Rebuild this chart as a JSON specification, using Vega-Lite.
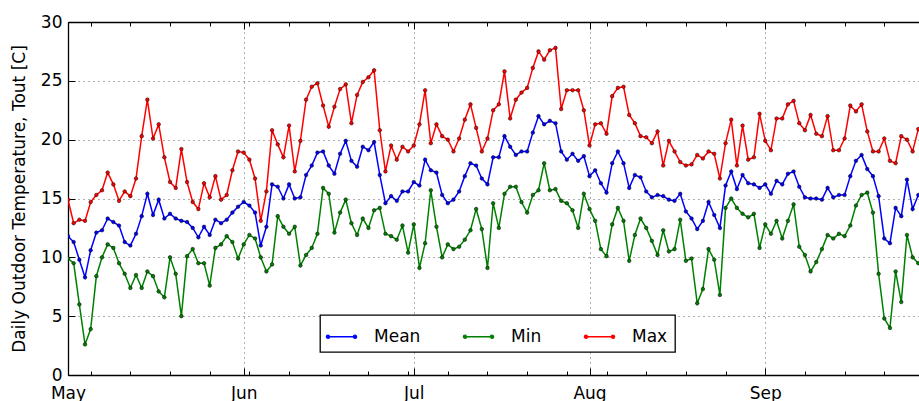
{
  "$schema": "https://vega.github.io/schema/vega-lite/v6.json",
  "autosize": "none",
  "padding": {"left": 68, "top": 22, "right": 0, "bottom": 26},
  "width": 851,
  "height": 353,
  "background": "white",
  "data": {
    "values": [
      {"date": "2014-05-01", "series": "Mean", "temp": 11.8},
      {"date": "2014-05-02", "series": "Mean", "temp": 11.3},
      {"date": "2014-05-03", "series": "Mean", "temp": 9.8},
      {"date": "2014-05-04", "series": "Mean", "temp": 8.3},
      {"date": "2014-05-05", "series": "Mean", "temp": 10.6},
      {"date": "2014-05-06", "series": "Mean", "temp": 12.1},
      {"date": "2014-05-07", "series": "Mean", "temp": 12.3},
      {"date": "2014-05-08", "series": "Mean", "temp": 13.3},
      {"date": "2014-05-09", "series": "Mean", "temp": 13.0},
      {"date": "2014-05-10", "series": "Mean", "temp": 12.7},
      {"date": "2014-05-11", "series": "Mean", "temp": 11.3},
      {"date": "2014-05-12", "series": "Mean", "temp": 11.0},
      {"date": "2014-05-13", "series": "Mean", "temp": 12.0},
      {"date": "2014-05-14", "series": "Mean", "temp": 13.5},
      {"date": "2014-05-15", "series": "Mean", "temp": 15.4},
      {"date": "2014-05-16", "series": "Mean", "temp": 13.6},
      {"date": "2014-05-17", "series": "Mean", "temp": 14.9},
      {"date": "2014-05-18", "series": "Mean", "temp": 13.3},
      {"date": "2014-05-19", "series": "Mean", "temp": 13.7},
      {"date": "2014-05-20", "series": "Mean", "temp": 13.3},
      {"date": "2014-05-21", "series": "Mean", "temp": 13.1},
      {"date": "2014-05-22", "series": "Mean", "temp": 13.0},
      {"date": "2014-05-23", "series": "Mean", "temp": 12.5},
      {"date": "2014-05-24", "series": "Mean", "temp": 11.7},
      {"date": "2014-05-25", "series": "Mean", "temp": 12.6},
      {"date": "2014-05-26", "series": "Mean", "temp": 11.9},
      {"date": "2014-05-27", "series": "Mean", "temp": 13.2},
      {"date": "2014-05-28", "series": "Mean", "temp": 12.9},
      {"date": "2014-05-29", "series": "Mean", "temp": 13.2},
      {"date": "2014-05-30", "series": "Mean", "temp": 13.8},
      {"date": "2014-05-31", "series": "Mean", "temp": 14.3},
      {"date": "2014-06-01", "series": "Mean", "temp": 14.7},
      {"date": "2014-06-02", "series": "Mean", "temp": 14.4},
      {"date": "2014-06-03", "series": "Mean", "temp": 13.8},
      {"date": "2014-06-04", "series": "Mean", "temp": 11.0},
      {"date": "2014-06-05", "series": "Mean", "temp": 12.6},
      {"date": "2014-06-06", "series": "Mean", "temp": 16.2},
      {"date": "2014-06-07", "series": "Mean", "temp": 16.0},
      {"date": "2014-06-08", "series": "Mean", "temp": 15.0},
      {"date": "2014-06-09", "series": "Mean", "temp": 16.2},
      {"date": "2014-06-10", "series": "Mean", "temp": 15.0},
      {"date": "2014-06-11", "series": "Mean", "temp": 15.1},
      {"date": "2014-06-12", "series": "Mean", "temp": 17.0},
      {"date": "2014-06-13", "series": "Mean", "temp": 17.8},
      {"date": "2014-06-14", "series": "Mean", "temp": 18.9},
      {"date": "2014-06-15", "series": "Mean", "temp": 19.0},
      {"date": "2014-06-16", "series": "Mean", "temp": 17.8},
      {"date": "2014-06-17", "series": "Mean", "temp": 17.1},
      {"date": "2014-06-18", "series": "Mean", "temp": 18.8},
      {"date": "2014-06-19", "series": "Mean", "temp": 19.9},
      {"date": "2014-06-20", "series": "Mean", "temp": 18.2},
      {"date": "2014-06-21", "series": "Mean", "temp": 17.7},
      {"date": "2014-06-22", "series": "Mean", "temp": 19.4},
      {"date": "2014-06-23", "series": "Mean", "temp": 19.1},
      {"date": "2014-06-24", "series": "Mean", "temp": 19.8},
      {"date": "2014-06-25", "series": "Mean", "temp": 17.0},
      {"date": "2014-06-26", "series": "Mean", "temp": 14.6},
      {"date": "2014-06-27", "series": "Mean", "temp": 15.2},
      {"date": "2014-06-28", "series": "Mean", "temp": 14.8},
      {"date": "2014-06-29", "series": "Mean", "temp": 15.6},
      {"date": "2014-06-30", "series": "Mean", "temp": 15.6},
      {"date": "2014-07-01", "series": "Mean", "temp": 16.4},
      {"date": "2014-07-02", "series": "Mean", "temp": 16.1},
      {"date": "2014-07-03", "series": "Mean", "temp": 18.3},
      {"date": "2014-07-04", "series": "Mean", "temp": 17.4},
      {"date": "2014-07-05", "series": "Mean", "temp": 17.2},
      {"date": "2014-07-06", "series": "Mean", "temp": 15.3},
      {"date": "2014-07-07", "series": "Mean", "temp": 14.6},
      {"date": "2014-07-08", "series": "Mean", "temp": 14.9},
      {"date": "2014-07-09", "series": "Mean", "temp": 15.6},
      {"date": "2014-07-10", "series": "Mean", "temp": 16.9},
      {"date": "2014-07-11", "series": "Mean", "temp": 18.0},
      {"date": "2014-07-12", "series": "Mean", "temp": 17.8},
      {"date": "2014-07-13", "series": "Mean", "temp": 16.7},
      {"date": "2014-07-14", "series": "Mean", "temp": 16.2},
      {"date": "2014-07-15", "series": "Mean", "temp": 18.5},
      {"date": "2014-07-16", "series": "Mean", "temp": 18.5},
      {"date": "2014-07-17", "series": "Mean", "temp": 20.3},
      {"date": "2014-07-18", "series": "Mean", "temp": 19.4},
      {"date": "2014-07-19", "series": "Mean", "temp": 18.7},
      {"date": "2014-07-20", "series": "Mean", "temp": 19.0},
      {"date": "2014-07-21", "series": "Mean", "temp": 19.0},
      {"date": "2014-07-22", "series": "Mean", "temp": 20.6},
      {"date": "2014-07-23", "series": "Mean", "temp": 22.0},
      {"date": "2014-07-24", "series": "Mean", "temp": 21.3},
      {"date": "2014-07-25", "series": "Mean", "temp": 21.6},
      {"date": "2014-07-26", "series": "Mean", "temp": 21.4},
      {"date": "2014-07-27", "series": "Mean", "temp": 19.0},
      {"date": "2014-07-28", "series": "Mean", "temp": 18.3},
      {"date": "2014-07-29", "series": "Mean", "temp": 18.8},
      {"date": "2014-07-30", "series": "Mean", "temp": 18.2},
      {"date": "2014-07-31", "series": "Mean", "temp": 18.6},
      {"date": "2014-08-01", "series": "Mean", "temp": 16.9},
      {"date": "2014-08-02", "series": "Mean", "temp": 17.4},
      {"date": "2014-08-03", "series": "Mean", "temp": 16.3},
      {"date": "2014-08-04", "series": "Mean", "temp": 15.5},
      {"date": "2014-08-05", "series": "Mean", "temp": 18.0},
      {"date": "2014-08-06", "series": "Mean", "temp": 19.0},
      {"date": "2014-08-07", "series": "Mean", "temp": 18.0},
      {"date": "2014-08-08", "series": "Mean", "temp": 15.9},
      {"date": "2014-08-09", "series": "Mean", "temp": 17.0},
      {"date": "2014-08-10", "series": "Mean", "temp": 16.8},
      {"date": "2014-08-11", "series": "Mean", "temp": 15.6},
      {"date": "2014-08-12", "series": "Mean", "temp": 15.1},
      {"date": "2014-08-13", "series": "Mean", "temp": 15.3},
      {"date": "2014-08-14", "series": "Mean", "temp": 15.2},
      {"date": "2014-08-15", "series": "Mean", "temp": 14.9},
      {"date": "2014-08-16", "series": "Mean", "temp": 14.8},
      {"date": "2014-08-17", "series": "Mean", "temp": 15.4},
      {"date": "2014-08-18", "series": "Mean", "temp": 13.9},
      {"date": "2014-08-19", "series": "Mean", "temp": 13.3},
      {"date": "2014-08-20", "series": "Mean", "temp": 12.4},
      {"date": "2014-08-21", "series": "Mean", "temp": 13.1},
      {"date": "2014-08-22", "series": "Mean", "temp": 14.7},
      {"date": "2014-08-23", "series": "Mean", "temp": 13.6},
      {"date": "2014-08-24", "series": "Mean", "temp": 12.5},
      {"date": "2014-08-25", "series": "Mean", "temp": 16.1},
      {"date": "2014-08-26", "series": "Mean", "temp": 17.3},
      {"date": "2014-08-27", "series": "Mean", "temp": 15.8},
      {"date": "2014-08-28", "series": "Mean", "temp": 17.0},
      {"date": "2014-08-29", "series": "Mean", "temp": 16.3},
      {"date": "2014-08-30", "series": "Mean", "temp": 16.2},
      {"date": "2014-08-31", "series": "Mean", "temp": 15.9},
      {"date": "2014-09-01", "series": "Mean", "temp": 16.2},
      {"date": "2014-09-02", "series": "Mean", "temp": 15.4},
      {"date": "2014-09-03", "series": "Mean", "temp": 16.5},
      {"date": "2014-09-04", "series": "Mean", "temp": 16.2},
      {"date": "2014-09-05", "series": "Mean", "temp": 17.1},
      {"date": "2014-09-06", "series": "Mean", "temp": 17.3},
      {"date": "2014-09-07", "series": "Mean", "temp": 16.0},
      {"date": "2014-09-08", "series": "Mean", "temp": 15.1},
      {"date": "2014-09-09", "series": "Mean", "temp": 15.0},
      {"date": "2014-09-10", "series": "Mean", "temp": 15.0},
      {"date": "2014-09-11", "series": "Mean", "temp": 14.9},
      {"date": "2014-09-12", "series": "Mean", "temp": 15.9},
      {"date": "2014-09-13", "series": "Mean", "temp": 15.1},
      {"date": "2014-09-14", "series": "Mean", "temp": 15.3},
      {"date": "2014-09-15", "series": "Mean", "temp": 15.3},
      {"date": "2014-09-16", "series": "Mean", "temp": 16.9},
      {"date": "2014-09-17", "series": "Mean", "temp": 18.2},
      {"date": "2014-09-18", "series": "Mean", "temp": 18.7},
      {"date": "2014-09-19", "series": "Mean", "temp": 17.5},
      {"date": "2014-09-20", "series": "Mean", "temp": 16.9},
      {"date": "2014-09-21", "series": "Mean", "temp": 15.2},
      {"date": "2014-09-22", "series": "Mean", "temp": 11.6},
      {"date": "2014-09-23", "series": "Mean", "temp": 11.2},
      {"date": "2014-09-24", "series": "Mean", "temp": 14.2},
      {"date": "2014-09-25", "series": "Mean", "temp": 13.5},
      {"date": "2014-09-26", "series": "Mean", "temp": 16.6},
      {"date": "2014-09-27", "series": "Mean", "temp": 14.1},
      {"date": "2014-09-28", "series": "Mean", "temp": 15.3},
      {"date": "2014-05-01", "series": "Min", "temp": 9.9},
      {"date": "2014-05-02", "series": "Min", "temp": 9.5},
      {"date": "2014-05-03", "series": "Min", "temp": 6.0},
      {"date": "2014-05-04", "series": "Min", "temp": 2.6},
      {"date": "2014-05-05", "series": "Min", "temp": 3.9},
      {"date": "2014-05-06", "series": "Min", "temp": 8.4},
      {"date": "2014-05-07", "series": "Min", "temp": 10.0},
      {"date": "2014-05-08", "series": "Min", "temp": 11.1},
      {"date": "2014-05-09", "series": "Min", "temp": 10.8},
      {"date": "2014-05-10", "series": "Min", "temp": 9.5},
      {"date": "2014-05-11", "series": "Min", "temp": 8.6},
      {"date": "2014-05-12", "series": "Min", "temp": 7.4},
      {"date": "2014-05-13", "series": "Min", "temp": 8.5},
      {"date": "2014-05-14", "series": "Min", "temp": 7.4},
      {"date": "2014-05-15", "series": "Min", "temp": 8.8},
      {"date": "2014-05-16", "series": "Min", "temp": 8.4},
      {"date": "2014-05-17", "series": "Min", "temp": 7.1},
      {"date": "2014-05-18", "series": "Min", "temp": 6.6},
      {"date": "2014-05-19", "series": "Min", "temp": 10.0},
      {"date": "2014-05-20", "series": "Min", "temp": 8.6},
      {"date": "2014-05-21", "series": "Min", "temp": 5.0},
      {"date": "2014-05-22", "series": "Min", "temp": 10.1},
      {"date": "2014-05-23", "series": "Min", "temp": 10.7},
      {"date": "2014-05-24", "series": "Min", "temp": 9.5},
      {"date": "2014-05-25", "series": "Min", "temp": 9.5},
      {"date": "2014-05-26", "series": "Min", "temp": 7.6},
      {"date": "2014-05-27", "series": "Min", "temp": 10.8},
      {"date": "2014-05-28", "series": "Min", "temp": 11.1},
      {"date": "2014-05-29", "series": "Min", "temp": 11.8},
      {"date": "2014-05-30", "series": "Min", "temp": 11.3},
      {"date": "2014-05-31", "series": "Min", "temp": 9.9},
      {"date": "2014-06-01", "series": "Min", "temp": 11.1},
      {"date": "2014-06-02", "series": "Min", "temp": 11.9},
      {"date": "2014-06-03", "series": "Min", "temp": 11.6},
      {"date": "2014-06-04", "series": "Min", "temp": 10.0},
      {"date": "2014-06-05", "series": "Min", "temp": 8.8},
      {"date": "2014-06-06", "series": "Min", "temp": 9.4},
      {"date": "2014-06-07", "series": "Min", "temp": 13.5},
      {"date": "2014-06-08", "series": "Min", "temp": 12.6},
      {"date": "2014-06-09", "series": "Min", "temp": 12.0},
      {"date": "2014-06-10", "series": "Min", "temp": 12.6},
      {"date": "2014-06-11", "series": "Min", "temp": 9.3},
      {"date": "2014-06-12", "series": "Min", "temp": 10.2},
      {"date": "2014-06-13", "series": "Min", "temp": 10.8},
      {"date": "2014-06-14", "series": "Min", "temp": 12.0},
      {"date": "2014-06-15", "series": "Min", "temp": 15.9},
      {"date": "2014-06-16", "series": "Min", "temp": 15.4},
      {"date": "2014-06-17", "series": "Min", "temp": 12.1},
      {"date": "2014-06-18", "series": "Min", "temp": 13.8},
      {"date": "2014-06-19", "series": "Min", "temp": 14.9},
      {"date": "2014-06-20", "series": "Min", "temp": 12.9},
      {"date": "2014-06-21", "series": "Min", "temp": 11.9},
      {"date": "2014-06-22", "series": "Min", "temp": 13.3},
      {"date": "2014-06-23", "series": "Min", "temp": 12.5},
      {"date": "2014-06-24", "series": "Min", "temp": 14.0},
      {"date": "2014-06-25", "series": "Min", "temp": 14.2},
      {"date": "2014-06-26", "series": "Min", "temp": 12.0},
      {"date": "2014-06-27", "series": "Min", "temp": 11.8},
      {"date": "2014-06-28", "series": "Min", "temp": 11.5},
      {"date": "2014-06-29", "series": "Min", "temp": 12.7},
      {"date": "2014-06-30", "series": "Min", "temp": 10.4},
      {"date": "2014-07-01", "series": "Min", "temp": 12.8},
      {"date": "2014-07-02", "series": "Min", "temp": 9.1},
      {"date": "2014-07-03", "series": "Min", "temp": 11.2},
      {"date": "2014-07-04", "series": "Min", "temp": 15.7},
      {"date": "2014-07-05", "series": "Min", "temp": 12.6},
      {"date": "2014-07-06", "series": "Min", "temp": 10.0},
      {"date": "2014-07-07", "series": "Min", "temp": 11.1},
      {"date": "2014-07-08", "series": "Min", "temp": 10.7},
      {"date": "2014-07-09", "series": "Min", "temp": 10.9},
      {"date": "2014-07-10", "series": "Min", "temp": 11.5},
      {"date": "2014-07-11", "series": "Min", "temp": 12.3},
      {"date": "2014-07-12", "series": "Min", "temp": 14.1},
      {"date": "2014-07-13", "series": "Min", "temp": 12.4},
      {"date": "2014-07-14", "series": "Min", "temp": 9.1},
      {"date": "2014-07-15", "series": "Min", "temp": 14.6},
      {"date": "2014-07-16", "series": "Min", "temp": 12.5},
      {"date": "2014-07-17", "series": "Min", "temp": 15.4},
      {"date": "2014-07-18", "series": "Min", "temp": 16.0},
      {"date": "2014-07-19", "series": "Min", "temp": 16.0},
      {"date": "2014-07-20", "series": "Min", "temp": 14.7},
      {"date": "2014-07-21", "series": "Min", "temp": 13.8},
      {"date": "2014-07-22", "series": "Min", "temp": 15.3},
      {"date": "2014-07-23", "series": "Min", "temp": 15.7},
      {"date": "2014-07-24", "series": "Min", "temp": 18.0},
      {"date": "2014-07-25", "series": "Min", "temp": 15.7},
      {"date": "2014-07-26", "series": "Min", "temp": 15.8},
      {"date": "2014-07-27", "series": "Min", "temp": 14.8},
      {"date": "2014-07-28", "series": "Min", "temp": 14.6},
      {"date": "2014-07-29", "series": "Min", "temp": 14.0},
      {"date": "2014-07-30", "series": "Min", "temp": 12.5},
      {"date": "2014-07-31", "series": "Min", "temp": 15.4},
      {"date": "2014-08-01", "series": "Min", "temp": 14.1},
      {"date": "2014-08-02", "series": "Min", "temp": 13.1},
      {"date": "2014-08-03", "series": "Min", "temp": 10.7},
      {"date": "2014-08-04", "series": "Min", "temp": 10.1},
      {"date": "2014-08-05", "series": "Min", "temp": 12.8},
      {"date": "2014-08-06", "series": "Min", "temp": 14.2},
      {"date": "2014-08-07", "series": "Min", "temp": 13.1},
      {"date": "2014-08-08", "series": "Min", "temp": 9.7},
      {"date": "2014-08-09", "series": "Min", "temp": 11.9},
      {"date": "2014-08-10", "series": "Min", "temp": 13.3},
      {"date": "2014-08-11", "series": "Min", "temp": 12.5},
      {"date": "2014-08-12", "series": "Min", "temp": 11.4},
      {"date": "2014-08-13", "series": "Min", "temp": 10.2},
      {"date": "2014-08-14", "series": "Min", "temp": 12.3},
      {"date": "2014-08-15", "series": "Min", "temp": 10.5},
      {"date": "2014-08-16", "series": "Min", "temp": 10.7},
      {"date": "2014-08-17", "series": "Min", "temp": 13.2},
      {"date": "2014-08-18", "series": "Min", "temp": 9.7},
      {"date": "2014-08-19", "series": "Min", "temp": 9.9},
      {"date": "2014-08-20", "series": "Min", "temp": 6.1},
      {"date": "2014-08-21", "series": "Min", "temp": 7.3},
      {"date": "2014-08-22", "series": "Min", "temp": 10.7},
      {"date": "2014-08-23", "series": "Min", "temp": 9.8},
      {"date": "2014-08-24", "series": "Min", "temp": 6.8},
      {"date": "2014-08-25", "series": "Min", "temp": 14.2},
      {"date": "2014-08-26", "series": "Min", "temp": 15.0},
      {"date": "2014-08-27", "series": "Min", "temp": 14.2},
      {"date": "2014-08-28", "series": "Min", "temp": 13.7},
      {"date": "2014-08-29", "series": "Min", "temp": 13.4},
      {"date": "2014-08-30", "series": "Min", "temp": 13.7},
      {"date": "2014-08-31", "series": "Min", "temp": 10.8},
      {"date": "2014-09-01", "series": "Min", "temp": 12.8},
      {"date": "2014-09-02", "series": "Min", "temp": 12.0},
      {"date": "2014-09-03", "series": "Min", "temp": 13.1},
      {"date": "2014-09-04", "series": "Min", "temp": 11.6},
      {"date": "2014-09-05", "series": "Min", "temp": 13.1},
      {"date": "2014-09-06", "series": "Min", "temp": 14.5},
      {"date": "2014-09-07", "series": "Min", "temp": 10.9},
      {"date": "2014-09-08", "series": "Min", "temp": 10.2},
      {"date": "2014-09-09", "series": "Min", "temp": 8.8},
      {"date": "2014-09-10", "series": "Min", "temp": 9.6},
      {"date": "2014-09-11", "series": "Min", "temp": 10.7},
      {"date": "2014-09-12", "series": "Min", "temp": 11.9},
      {"date": "2014-09-13", "series": "Min", "temp": 11.6},
      {"date": "2014-09-14", "series": "Min", "temp": 12.0},
      {"date": "2014-09-15", "series": "Min", "temp": 11.8},
      {"date": "2014-09-16", "series": "Min", "temp": 12.7},
      {"date": "2014-09-17", "series": "Min", "temp": 14.4},
      {"date": "2014-09-18", "series": "Min", "temp": 15.3},
      {"date": "2014-09-19", "series": "Min", "temp": 15.5},
      {"date": "2014-09-20", "series": "Min", "temp": 13.8},
      {"date": "2014-09-21", "series": "Min", "temp": 8.6},
      {"date": "2014-09-22", "series": "Min", "temp": 4.8},
      {"date": "2014-09-23", "series": "Min", "temp": 4.0},
      {"date": "2014-09-24", "series": "Min", "temp": 8.8},
      {"date": "2014-09-25", "series": "Min", "temp": 6.2},
      {"date": "2014-09-26", "series": "Min", "temp": 11.9},
      {"date": "2014-09-27", "series": "Min", "temp": 10.0},
      {"date": "2014-09-28", "series": "Min", "temp": 9.5},
      {"date": "2014-05-01", "series": "Max", "temp": 14.9},
      {"date": "2014-05-02", "series": "Max", "temp": 12.9},
      {"date": "2014-05-03", "series": "Max", "temp": 13.2},
      {"date": "2014-05-04", "series": "Max", "temp": 13.1},
      {"date": "2014-05-05", "series": "Max", "temp": 14.7},
      {"date": "2014-05-06", "series": "Max", "temp": 15.3},
      {"date": "2014-05-07", "series": "Max", "temp": 15.7},
      {"date": "2014-05-08", "series": "Max", "temp": 17.2},
      {"date": "2014-05-09", "series": "Max", "temp": 16.2},
      {"date": "2014-05-10", "series": "Max", "temp": 14.8},
      {"date": "2014-05-11", "series": "Max", "temp": 15.6},
      {"date": "2014-05-12", "series": "Max", "temp": 15.2},
      {"date": "2014-05-13", "series": "Max", "temp": 16.7},
      {"date": "2014-05-14", "series": "Max", "temp": 20.3},
      {"date": "2014-05-15", "series": "Max", "temp": 23.4},
      {"date": "2014-05-16", "series": "Max", "temp": 20.1},
      {"date": "2014-05-17", "series": "Max", "temp": 21.3},
      {"date": "2014-05-18", "series": "Max", "temp": 18.5},
      {"date": "2014-05-19", "series": "Max", "temp": 16.4},
      {"date": "2014-05-20", "series": "Max", "temp": 15.9},
      {"date": "2014-05-21", "series": "Max", "temp": 19.2},
      {"date": "2014-05-22", "series": "Max", "temp": 16.4},
      {"date": "2014-05-23", "series": "Max", "temp": 14.7},
      {"date": "2014-05-24", "series": "Max", "temp": 14.1},
      {"date": "2014-05-25", "series": "Max", "temp": 16.3},
      {"date": "2014-05-26", "series": "Max", "temp": 15.1},
      {"date": "2014-05-27", "series": "Max", "temp": 16.9},
      {"date": "2014-05-28", "series": "Max", "temp": 14.9},
      {"date": "2014-05-29", "series": "Max", "temp": 15.3},
      {"date": "2014-05-30", "series": "Max", "temp": 17.4},
      {"date": "2014-05-31", "series": "Max", "temp": 19.0},
      {"date": "2014-06-01", "series": "Max", "temp": 18.9},
      {"date": "2014-06-02", "series": "Max", "temp": 18.3},
      {"date": "2014-06-03", "series": "Max", "temp": 16.7},
      {"date": "2014-06-04", "series": "Max", "temp": 13.1},
      {"date": "2014-06-05", "series": "Max", "temp": 15.6},
      {"date": "2014-06-06", "series": "Max", "temp": 20.8},
      {"date": "2014-06-07", "series": "Max", "temp": 19.6},
      {"date": "2014-06-08", "series": "Max", "temp": 18.5},
      {"date": "2014-06-09", "series": "Max", "temp": 21.2},
      {"date": "2014-06-10", "series": "Max", "temp": 17.3},
      {"date": "2014-06-11", "series": "Max", "temp": 19.9},
      {"date": "2014-06-12", "series": "Max", "temp": 23.4},
      {"date": "2014-06-13", "series": "Max", "temp": 24.5},
      {"date": "2014-06-14", "series": "Max", "temp": 24.8},
      {"date": "2014-06-15", "series": "Max", "temp": 22.9},
      {"date": "2014-06-16", "series": "Max", "temp": 21.1},
      {"date": "2014-06-17", "series": "Max", "temp": 22.8},
      {"date": "2014-06-18", "series": "Max", "temp": 24.3},
      {"date": "2014-06-19", "series": "Max", "temp": 24.7},
      {"date": "2014-06-20", "series": "Max", "temp": 21.4},
      {"date": "2014-06-21", "series": "Max", "temp": 23.8},
      {"date": "2014-06-22", "series": "Max", "temp": 24.9},
      {"date": "2014-06-23", "series": "Max", "temp": 25.3},
      {"date": "2014-06-24", "series": "Max", "temp": 25.9},
      {"date": "2014-06-25", "series": "Max", "temp": 20.8},
      {"date": "2014-06-26", "series": "Max", "temp": 17.3},
      {"date": "2014-06-27", "series": "Max", "temp": 19.5},
      {"date": "2014-06-28", "series": "Max", "temp": 18.3},
      {"date": "2014-06-29", "series": "Max", "temp": 19.4},
      {"date": "2014-06-30", "series": "Max", "temp": 19.0},
      {"date": "2014-07-01", "series": "Max", "temp": 19.5},
      {"date": "2014-07-02", "series": "Max", "temp": 21.3},
      {"date": "2014-07-03", "series": "Max", "temp": 24.2},
      {"date": "2014-07-04", "series": "Max", "temp": 19.7},
      {"date": "2014-07-05", "series": "Max", "temp": 21.3},
      {"date": "2014-07-06", "series": "Max", "temp": 20.3},
      {"date": "2014-07-07", "series": "Max", "temp": 20.0},
      {"date": "2014-07-08", "series": "Max", "temp": 19.0},
      {"date": "2014-07-09", "series": "Max", "temp": 20.1},
      {"date": "2014-07-10", "series": "Max", "temp": 21.7},
      {"date": "2014-07-11", "series": "Max", "temp": 23.0},
      {"date": "2014-07-12", "series": "Max", "temp": 21.0},
      {"date": "2014-07-13", "series": "Max", "temp": 19.0},
      {"date": "2014-07-14", "series": "Max", "temp": 20.1},
      {"date": "2014-07-15", "series": "Max", "temp": 22.5},
      {"date": "2014-07-16", "series": "Max", "temp": 23.0},
      {"date": "2014-07-17", "series": "Max", "temp": 25.8},
      {"date": "2014-07-18", "series": "Max", "temp": 21.8},
      {"date": "2014-07-19", "series": "Max", "temp": 23.4},
      {"date": "2014-07-20", "series": "Max", "temp": 24.0},
      {"date": "2014-07-21", "series": "Max", "temp": 24.4},
      {"date": "2014-07-22", "series": "Max", "temp": 26.1},
      {"date": "2014-07-23", "series": "Max", "temp": 27.5},
      {"date": "2014-07-24", "series": "Max", "temp": 26.8},
      {"date": "2014-07-25", "series": "Max", "temp": 27.6},
      {"date": "2014-07-26", "series": "Max", "temp": 27.8},
      {"date": "2014-07-27", "series": "Max", "temp": 22.6},
      {"date": "2014-07-28", "series": "Max", "temp": 24.2},
      {"date": "2014-07-29", "series": "Max", "temp": 24.2},
      {"date": "2014-07-30", "series": "Max", "temp": 24.2},
      {"date": "2014-07-31", "series": "Max", "temp": 22.5},
      {"date": "2014-08-01", "series": "Max", "temp": 19.5},
      {"date": "2014-08-02", "series": "Max", "temp": 21.3},
      {"date": "2014-08-03", "series": "Max", "temp": 21.4},
      {"date": "2014-08-04", "series": "Max", "temp": 20.5},
      {"date": "2014-08-05", "series": "Max", "temp": 23.7},
      {"date": "2014-08-06", "series": "Max", "temp": 24.4},
      {"date": "2014-08-07", "series": "Max", "temp": 24.5},
      {"date": "2014-08-08", "series": "Max", "temp": 22.1},
      {"date": "2014-08-09", "series": "Max", "temp": 21.4},
      {"date": "2014-08-10", "series": "Max", "temp": 20.3},
      {"date": "2014-08-11", "series": "Max", "temp": 20.2},
      {"date": "2014-08-12", "series": "Max", "temp": 19.7},
      {"date": "2014-08-13", "series": "Max", "temp": 20.7},
      {"date": "2014-08-14", "series": "Max", "temp": 17.8},
      {"date": "2014-08-15", "series": "Max", "temp": 19.9},
      {"date": "2014-08-16", "series": "Max", "temp": 19.0},
      {"date": "2014-08-17", "series": "Max", "temp": 18.1},
      {"date": "2014-08-18", "series": "Max", "temp": 17.8},
      {"date": "2014-08-19", "series": "Max", "temp": 17.9},
      {"date": "2014-08-20", "series": "Max", "temp": 18.7},
      {"date": "2014-08-21", "series": "Max", "temp": 18.4},
      {"date": "2014-08-22", "series": "Max", "temp": 19.0},
      {"date": "2014-08-23", "series": "Max", "temp": 18.8},
      {"date": "2014-08-24", "series": "Max", "temp": 16.7},
      {"date": "2014-08-25", "series": "Max", "temp": 19.7},
      {"date": "2014-08-26", "series": "Max", "temp": 21.7},
      {"date": "2014-08-27", "series": "Max", "temp": 17.8},
      {"date": "2014-08-28", "series": "Max", "temp": 21.2},
      {"date": "2014-08-29", "series": "Max", "temp": 18.3},
      {"date": "2014-08-30", "series": "Max", "temp": 18.5},
      {"date": "2014-08-31", "series": "Max", "temp": 22.2},
      {"date": "2014-09-01", "series": "Max", "temp": 19.9},
      {"date": "2014-09-02", "series": "Max", "temp": 19.1},
      {"date": "2014-09-03", "series": "Max", "temp": 21.8},
      {"date": "2014-09-04", "series": "Max", "temp": 21.8},
      {"date": "2014-09-05", "series": "Max", "temp": 23.0},
      {"date": "2014-09-06", "series": "Max", "temp": 23.3},
      {"date": "2014-09-07", "series": "Max", "temp": 21.4},
      {"date": "2014-09-08", "series": "Max", "temp": 20.8},
      {"date": "2014-09-09", "series": "Max", "temp": 22.1},
      {"date": "2014-09-10", "series": "Max", "temp": 20.5},
      {"date": "2014-09-11", "series": "Max", "temp": 20.3},
      {"date": "2014-09-12", "series": "Max", "temp": 22.0},
      {"date": "2014-09-13", "series": "Max", "temp": 19.1},
      {"date": "2014-09-14", "series": "Max", "temp": 19.1},
      {"date": "2014-09-15", "series": "Max", "temp": 20.1},
      {"date": "2014-09-16", "series": "Max", "temp": 22.9},
      {"date": "2014-09-17", "series": "Max", "temp": 22.4},
      {"date": "2014-09-18", "series": "Max", "temp": 23.0},
      {"date": "2014-09-19", "series": "Max", "temp": 20.7},
      {"date": "2014-09-20", "series": "Max", "temp": 19.0},
      {"date": "2014-09-21", "series": "Max", "temp": 19.0},
      {"date": "2014-09-22", "series": "Max", "temp": 20.1},
      {"date": "2014-09-23", "series": "Max", "temp": 18.2},
      {"date": "2014-09-24", "series": "Max", "temp": 18.0},
      {"date": "2014-09-25", "series": "Max", "temp": 20.3},
      {"date": "2014-09-26", "series": "Max", "temp": 20.0},
      {"date": "2014-09-27", "series": "Max", "temp": 19.0},
      {"date": "2014-09-28", "series": "Max", "temp": 20.9}
    ]
  },
  "encoding": {
    "x": {
      "field": "date",
      "type": "temporal",
      "scale": {
        "type": "utc",
        "domain": [
          {"year": 2014, "month": 5, "date": 1, "utc": true},
          {"year": 2014, "month": 9, "date": 28, "hours": 3, "utc": true}
        ]
      }
    },
    "y": {
      "field": "temp",
      "type": "quantitative",
      "scale": {"domain": [0, 30], "nice": false, "zero": false}
    }
  },
  "layer": [
    {
      "mark": {"type": "line", "strokeWidth": 1.5, "clip": true},
      "encoding": {
        "x": {
          "field": "date",
          "type": "temporal",
          "axis": {
            "orient": "bottom",
            "title": null,
            "values": [
              {"year": 2014, "month": 5, "date": 1, "utc": true},
              {"year": 2014, "month": 6, "date": 1, "utc": true},
              {"year": 2014, "month": 7, "date": 1, "utc": true},
              {"year": 2014, "month": 8, "date": 1, "utc": true},
              {"year": 2014, "month": 9, "date": 1, "utc": true}
            ],
            "format": "%b",
            "ticks": false,
            "labelPadding": 10,
            "labelFlush": false,
            "labelOverlap": false,
            "grid": true,
            "domain": true
          }
        },
        "y": {
          "field": "temp",
          "type": "quantitative",
          "axis": {
            "orient": "left",
            "title": "Daily Outdoor Temperature, Tout [C]",
            "titlePadding": 12,
            "values": [0, 5, 10, 15, 20, 25, 30],
            "ticks": false,
            "labelPadding": 6,
            "labelFlush": false,
            "grid": true,
            "domain": true
          }
        },
        "color": {
          "field": "series",
          "type": "nominal",
          "scale": {"domain": ["Mean", "Min", "Max"], "range": ["#0000ff", "#008000", "#ff0000"]},
          "legend": {
            "title": null,
            "orient": "none",
            "legendX": 252,
            "legendY": 293,
            "direction": "horizontal",
            "columns": 3,
            "symbolType": "M-1,0L1,0M-1.12,0a0.12,0.12 0 1,0 0.24,0a0.12,0.12 0 1,0 -0.24,0M0.88,0a0.12,0.12 0 1,0 0.24,0a0.12,0.12 0 1,0 -0.24,0",
            "symbolSize": 729,
            "symbolStrokeWidth": 1.3,
            "labelFont": "DejaVu Sans",
            "labelFontSize": 17,
            "labelColor": "#000",
            "labelOffset": 18,
            "columnPadding": 39,
            "padding": 7,
            "strokeColor": "#000",
            "fillColor": "#fff",
            "cornerRadius": 0,
            "encode": {
              "symbols": {
                "update": {
                  "fill": {"scale": "color", "field": "value"},
                  "stroke": {"scale": "color", "field": "value"}
                }
              },
              "legend": {"update": {"strokeWidth": {"value": 1.3}}}
            }
          }
        }
      }
    },
    {
      "mark": {"type": "circle", "size": 13, "opacity": 1, "stroke": "#000", "strokeWidth": 0.5, "clip": true},
      "encoding": {
        "x": {"field": "date", "type": "temporal", "axis": null},
        "y": {"field": "temp", "type": "quantitative", "axis": null},
        "fill": {
          "field": "series",
          "type": "nominal",
          "scale": {"domain": ["Mean", "Min", "Max"], "range": ["#0000ff", "#008000", "#ff0000"]},
          "legend": null
        }
      }
    },
    {
      "mark": {"type": "point", "opacity": 0},
      "encoding": {
        "x": {
          "field": "date",
          "type": "temporal",
          "axis": {
            "orient": "bottom",
            "title": null,
            "labels": false,
            "domain": false,
            "grid": false,
            "ticks": true,
            "values": [
              {"year": 2014, "month": 5, "date": 1, "utc": true},
              {"year": 2014, "month": 6, "date": 1, "utc": true},
              {"year": 2014, "month": 7, "date": 1, "utc": true},
              {"year": 2014, "month": 8, "date": 1, "utc": true},
              {"year": 2014, "month": 9, "date": 1, "utc": true},
              {"year": 2014, "month": 5, "date": 5, "utc": true},
              {"year": 2014, "month": 5, "date": 12, "utc": true},
              {"year": 2014, "month": 5, "date": 19, "utc": true},
              {"year": 2014, "month": 5, "date": 26, "utc": true},
              {"year": 2014, "month": 6, "date": 2, "utc": true},
              {"year": 2014, "month": 6, "date": 9, "utc": true},
              {"year": 2014, "month": 6, "date": 16, "utc": true},
              {"year": 2014, "month": 6, "date": 23, "utc": true},
              {"year": 2014, "month": 6, "date": 30, "utc": true},
              {"year": 2014, "month": 7, "date": 7, "utc": true},
              {"year": 2014, "month": 7, "date": 14, "utc": true},
              {"year": 2014, "month": 7, "date": 21, "utc": true},
              {"year": 2014, "month": 7, "date": 28, "utc": true},
              {"year": 2014, "month": 8, "date": 4, "utc": true},
              {"year": 2014, "month": 8, "date": 11, "utc": true},
              {"year": 2014, "month": 8, "date": 18, "utc": true},
              {"year": 2014, "month": 8, "date": 25, "utc": true},
              {"year": 2014, "month": 9, "date": 8, "utc": true},
              {"year": 2014, "month": 9, "date": 15, "utc": true},
              {"year": 2014, "month": 9, "date": 22, "utc": true}
            ],
            "tickSize": {"condition": {"test": "utcdate(datum.value) == 1", "value": -7}, "value": -4}
          }
        },
        "y": {
          "field": "temp",
          "type": "quantitative",
          "axis": {
            "orient": "left",
            "title": null,
            "labels": false,
            "domain": false,
            "grid": false,
            "ticks": true,
            "tickSize": -7,
            "values": [5, 10, 15, 20, 25]
          }
        }
      }
    },
    {
      "mark": {"type": "point", "opacity": 0},
      "encoding": {
        "x": {
          "field": "date",
          "type": "temporal",
          "axis": {
            "orient": "top",
            "title": null,
            "labels": false,
            "domain": true,
            "grid": false,
            "ticks": true,
            "values": [
              {"year": 2014, "month": 5, "date": 1, "utc": true},
              {"year": 2014, "month": 6, "date": 1, "utc": true},
              {"year": 2014, "month": 7, "date": 1, "utc": true},
              {"year": 2014, "month": 8, "date": 1, "utc": true},
              {"year": 2014, "month": 9, "date": 1, "utc": true},
              {"year": 2014, "month": 5, "date": 5, "utc": true},
              {"year": 2014, "month": 5, "date": 12, "utc": true},
              {"year": 2014, "month": 5, "date": 19, "utc": true},
              {"year": 2014, "month": 5, "date": 26, "utc": true},
              {"year": 2014, "month": 6, "date": 2, "utc": true},
              {"year": 2014, "month": 6, "date": 9, "utc": true},
              {"year": 2014, "month": 6, "date": 16, "utc": true},
              {"year": 2014, "month": 6, "date": 23, "utc": true},
              {"year": 2014, "month": 6, "date": 30, "utc": true},
              {"year": 2014, "month": 7, "date": 7, "utc": true},
              {"year": 2014, "month": 7, "date": 14, "utc": true},
              {"year": 2014, "month": 7, "date": 21, "utc": true},
              {"year": 2014, "month": 7, "date": 28, "utc": true},
              {"year": 2014, "month": 8, "date": 4, "utc": true},
              {"year": 2014, "month": 8, "date": 11, "utc": true},
              {"year": 2014, "month": 8, "date": 18, "utc": true},
              {"year": 2014, "month": 8, "date": 25, "utc": true},
              {"year": 2014, "month": 9, "date": 8, "utc": true},
              {"year": 2014, "month": 9, "date": 15, "utc": true},
              {"year": 2014, "month": 9, "date": 22, "utc": true}
            ],
            "tickSize": {"condition": {"test": "utcdate(datum.value) == 1", "value": -7}, "value": -4}
          }
        },
        "y": {"field": "temp", "type": "quantitative", "axis": null}
      }
    }
  ],
  "resolve": {"axis": {"x": "independent", "y": "independent"}},
  "config": {
    "view": {"stroke": null},
    "font": "DejaVu Sans",
    "axis": {
      "labelFont": "DejaVu Sans",
      "labelFontSize": 17,
      "labelColor": "#000",
      "titleFont": "DejaVu Sans",
      "titleFontSize": 17,
      "titleFontWeight": "normal",
      "titleColor": "#000",
      "domainColor": "#000",
      "domainWidth": 1.3,
      "tickColor": "#000",
      "tickWidth": 1,
      "gridColor": "#000",
      "gridWidth": 0.7,
      "gridDash": [1, 4],
      "gridOpacity": 0.9
    }
  }
}
